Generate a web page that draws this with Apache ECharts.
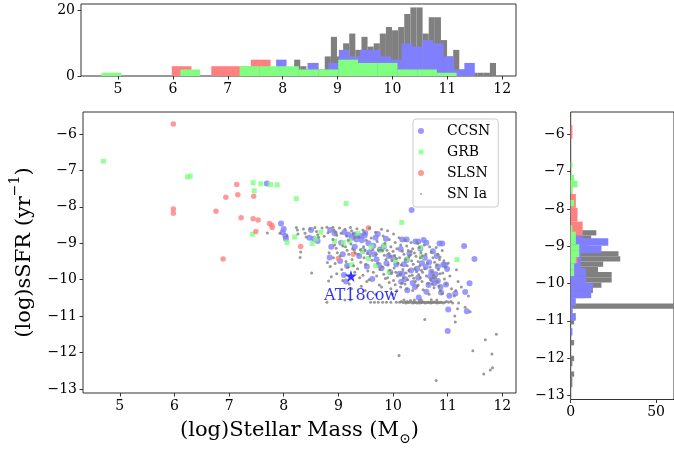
<!DOCTYPE html>
<html><head><meta charset="utf-8">
<script src="https://cdn.jsdelivr.net/npm/echarts@6/dist/echarts.min.js"></script>
<style>html,body{margin:0;padding:0;background:#fff}#c{width:674px;height:451px}</style>
</head><body><div id="c"></div>
<script>
const FONT = 'DejaVu Serif';
const massTicks = [5, 6, 7, 8, 9, 10, 11, 12];
const sfrTicks = [-6, -7, -8, -9, -10, -11, -12, -13];
const topCountTicks = [0, 20];
const sideCountTicks = [0, 50];
const seriesNames = ['CCSN', 'GRB', 'SLSN', 'SN Ia'];

// scatter data: [log stellar mass, log sSFR]
const ccsn = [
[7.69,-7.36],
[7.95,-8.46],[7.98,-8.70],[8.00,-8.61],[8.03,-8.80],[8.04,-8.88],
[8.47,-8.85],[8.50,-8.64],[8.55,-8.88],[8.62,-8.94],
[8.85,-8.64],[8.93,-8.73],[8.87,-9.10],[8.84,-9.39],
[9.03,-9.49],[9.10,-9.87],[9.14,-10.05],[9.11,-8.70],[9.05,-8.99],[9.18,-8.76],[9.08,-9.30],[9.16,-9.62],
[9.29,-8.76],[9.25,-8.85],[9.33,-8.90],[9.37,-8.80],[9.30,-9.10],[9.38,-9.35],
[9.41,-8.80],[9.48,-8.79],[9.49,-8.72],[9.52,-9.64],[9.55,-9.00],[9.45,-9.20],[9.57,-9.25],[9.43,-8.92],
[9.62,-9.98],[9.72,-8.75],[9.64,-9.07],[9.76,-9.17],[9.68,-8.85],[9.70,-9.45],[9.66,-9.30],[9.74,-9.60],
[9.79,-9.69],[9.87,-8.88],[9.83,-9.10],[9.92,-9.35],[9.88,-9.55],[9.95,-9.80],
[10.06,-9.58],[10.14,-9.16],[10.00,-9.40],[10.12,-9.84],[10.15,-10.06],
[10.17,-8.90],[10.25,-8.90],[10.20,-9.58],[10.25,-9.46],[10.33,-9.75],[10.17,-9.84],[10.26,-10.29],[10.30,-9.28],[10.22,-9.98],[10.34,-8.09],
[10.41,-8.95],[10.46,-8.95],[10.50,-9.15],[10.36,-10.09],[10.46,-9.95],[10.40,-10.20],[10.44,-9.70],[10.53,-9.55],[10.47,-10.49],
[10.56,-8.91],[10.61,-8.99],[10.61,-10.33],[10.68,-9.91],[10.73,-9.22],[10.70,-9.78],[10.58,-9.40],[10.65,-10.15],[10.72,-10.00],[10.60,-9.65],[10.66,-9.52],
[10.85,-9.01],[10.90,-9.01],[10.82,-9.64],[10.82,-10.04],[10.87,-10.20],[10.78,-9.85],[10.92,-9.59],[10.80,-9.35],[10.88,-10.35],[10.76,-10.10],
[10.95,-9.59],[10.99,-9.71],[10.97,-10.13],[11.01,-10.82],[11.00,-11.41],[11.03,-10.44],
[11.14,-10.38],[11.30,-9.08],
[11.32,-10.34],[11.35,-10.87],[11.49,-9.43],[11.40,-10.10]
];
const grb = [
[4.70,-6.75],[6.24,-7.18],[6.29,-7.16],[7.43,-8.75],[7.44,-7.34],[7.46,-7.56],[7.58,-7.37],[7.76,-7.39],
[7.88,-7.40],[8.06,-8.98],[8.20,-8.83],[8.23,-7.78],[8.52,-9.01],[8.59,-8.88],[8.68,-8.70],[8.93,-8.94],
[9.09,-8.98],[9.14,-7.91],[9.21,-8.94],[9.24,-9.59],[9.36,-8.73],[9.55,-9.42],[9.68,-9.62],[9.60,-9.10],
[9.84,-9.06],[9.93,-9.79],[9.78,-9.20],[10.05,-9.48],[10.16,-8.43],[10.26,-9.43],[10.50,-9.12],[10.52,-9.37],
[11.17,-9.45],[9.44,-9.22]
];
const slsn = [
[5.98,-5.73],[7.14,-7.39],[6.94,-7.74],[7.16,-7.67],[7.45,-7.71],[5.98,-8.06],[5.98,-8.18],[6.76,-8.12],
[7.22,-8.30],[7.44,-8.33],[7.53,-8.36],[7.74,-8.46],[7.78,-8.51],[7.79,-8.57],[7.49,-8.68],[8.31,-9.09],
[9.00,-9.42],[6.89,-9.43],[9.55,-8.58],[9.27,-9.30]
];
const snia = [
[7.70,-8.72],[7.93,-8.73],[8.06,-8.80],
[8.23,-8.57],[8.25,-8.64],[8.26,-8.75],[8.30,-9.39],[8.31,-9.24],
[8.36,-8.61],[8.39,-8.73],[8.41,-8.83],
[8.48,-8.60],[8.51,-9.82],
[8.57,-8.57],[8.60,-8.68],[8.62,-8.77],[8.64,-8.84],
[8.70,-8.58],[8.74,-8.81],
[8.79,-8.56],[8.81,-8.71],[8.83,-9.26],[8.80,-9.53],[8.85,-9.64],[8.79,-10.62],[8.82,-10.04],
[8.90,-8.56],[8.92,-8.64],[8.95,-8.70],[8.97,-8.78],[8.90,-8.90],[8.93,-9.05],[8.96,-9.14],[8.98,-9.26],[8.91,-9.40],[8.94,-9.56],[8.87,-9.92],[8.97,-9.84],
[9.02,-8.58],[9.05,-8.73],[9.08,-9.08],[9.03,-9.35],[9.06,-9.72],[9.08,-10.02],
[9.12,-8.62],[9.15,-8.80],[9.18,-8.92],[9.13,-9.10],[9.16,-9.19],[9.19,-9.30],[9.14,-9.50],[9.17,-9.66],[9.20,-10.12],[9.12,-10.56],
[9.22,-8.57],[9.24,-8.66],[9.27,-8.74],[9.30,-8.85],[9.23,-9.02],[9.26,-9.15],[9.29,-9.19],[9.31,-9.27],[9.25,-9.45],[9.28,-9.62],[9.30,-9.80],[9.24,-10.25],[9.22,-10.56],
[9.34,-8.60],[9.37,-8.82],[9.40,-9.18],[9.36,-9.30],[9.41,-9.52],[9.35,-9.70],[9.39,-9.95],[9.42,-10.18],
[9.45,-8.64],[9.48,-8.72],[9.51,-8.92],[9.46,-9.10],[9.49,-9.19],[9.53,-9.28],[9.47,-9.40],[9.50,-9.58],[9.54,-9.76],[9.45,-9.88],[9.52,-10.05],[9.49,-10.30],
[9.57,-8.58],[9.60,-8.86],[9.63,-9.18],[9.58,-9.35],[9.62,-9.47],[9.64,-9.80],[9.56,-10.00],[9.59,-10.62],[9.66,-10.62],
[9.68,-8.70],[9.71,-8.95],[9.74,-9.19],[9.69,-9.30],[9.72,-9.55],[9.76,-9.72],[9.70,-9.90],[9.75,-10.15],[9.73,-10.62],[9.68,-10.40],
[9.79,-8.62],[9.82,-8.80],[9.85,-9.00],[9.78,-9.18],[9.81,-9.20],[9.84,-9.33],[9.87,-9.45],[9.80,-9.65],[9.83,-9.85],[9.86,-9.97],[9.79,-10.20],[9.81,-10.62],[9.88,-10.62],
[9.90,-8.66],[9.93,-8.90],[9.96,-9.10],[9.89,-9.19],[9.92,-9.28],[9.95,-9.36],[9.98,-9.48],[9.91,-9.60],[9.94,-9.74],[9.97,-9.82],[9.90,-9.95],[9.93,-10.08],[9.96,-10.25],[9.99,-10.40],[9.96,-10.62],
[10.01,-8.75],[10.04,-8.98],[10.07,-9.15],[10.00,-9.22],[10.03,-9.34],[10.06,-9.42],[10.09,-9.55],[10.02,-9.68],[10.05,-9.80],[10.08,-9.90],[10.01,-10.02],[10.04,-10.14],[10.07,-10.30],[10.06,-10.62],
[10.11,-8.85],[10.14,-9.05],[10.17,-9.22],[10.20,-9.30],[10.12,-9.40],[10.15,-9.60],[10.18,-9.72],[10.13,-9.85],[10.19,-9.95],[10.16,-10.10],[10.12,-10.62],[10.15,-10.60],[10.18,-10.63],[10.20,-10.56],[10.14,-10.20],[10.11,-12.08],
[10.22,-8.92],[10.25,-9.08],[10.28,-9.20],[10.31,-9.33],[10.23,-9.45],[10.26,-9.62],[10.29,-9.75],[10.24,-9.82],[10.30,-9.90],[10.27,-10.00],[10.22,-10.12],[10.25,-10.25],[10.22,-10.62],[10.24,-10.64],[10.26,-10.60],[10.28,-10.63],[10.30,-10.62],[10.32,-10.57],[10.29,-9.38],
[10.33,-8.98],[10.36,-9.15],[10.39,-9.27],[10.42,-9.36],[10.34,-9.48],[10.37,-9.58],[10.40,-9.70],[10.43,-9.78],[10.35,-9.88],[10.38,-9.96],[10.41,-10.05],[10.44,-10.18],[10.36,-10.30],[10.34,-10.62],[10.36,-10.64],[10.38,-10.61],[10.40,-10.63],[10.42,-10.62],[10.44,-10.64],[10.39,-10.56],[10.33,-9.22],
[10.45,-9.00],[10.48,-9.12],[10.51,-9.26],[10.54,-9.35],[10.46,-9.50],[10.49,-9.62],[10.52,-9.74],[10.47,-9.86],[10.50,-9.95],[10.53,-10.05],[10.46,-10.15],[10.55,-10.28],[10.47,-10.62],[10.49,-10.64],[10.51,-10.62],[10.53,-10.63],[10.55,-10.61],[10.48,-10.58],[10.52,-10.56],[10.50,-9.40],[10.54,-9.80],
[10.57,-9.05],[10.60,-9.30],[10.63,-9.55],[10.58,-9.70],[10.61,-9.90],[10.64,-10.10],[10.58,-11.09],[10.57,-10.62],[10.59,-10.64],[10.61,-10.62],[10.63,-10.63],[10.65,-10.62],[10.66,-10.40],
[10.67,-9.10],[10.70,-9.25],[10.73,-9.40],[10.76,-9.52],[10.68,-9.65],[10.71,-9.78],[10.74,-9.88],[10.69,-10.00],[10.72,-10.12],[10.75,-10.22],[10.67,-10.62],[10.69,-10.64],[10.71,-10.62],[10.73,-10.63],[10.75,-10.61],[10.77,-10.62],[10.70,-10.55],[10.74,-9.95],
[10.79,-9.12],[10.82,-9.30],[10.85,-9.45],[10.80,-9.60],[10.83,-9.72],[10.86,-9.84],[10.78,-9.95],[10.81,-10.05],[10.84,-10.18],[10.87,-10.30],[10.79,-10.62],[10.81,-10.64],[10.83,-10.62],[10.85,-10.63],[10.87,-10.62],[10.80,-10.56],[10.79,-12.77],[10.86,-9.38],
[10.90,-9.20],[10.93,-9.48],[10.96,-9.66],[10.91,-9.82],[10.94,-9.98],[10.97,-10.12],[10.89,-10.62],[10.92,-10.64],[10.95,-10.62],[10.98,-10.60],[10.90,-10.38],
[11.01,-9.55],[11.04,-9.90],[11.07,-10.25],[11.02,-10.62],[11.06,-10.60],[11.09,-10.64],
[11.13,-11.00],[11.14,-11.16],[11.16,-9.73],[11.19,-10.05],[11.12,-10.45],[11.18,-10.80],[11.20,-10.64],[11.15,-10.30],
[11.25,-10.20],[11.32,-10.76],
[11.38,-10.45],[11.41,-10.88],[11.46,-11.95],
[11.66,-12.59],[11.69,-11.65],
[11.89,-11.50],[11.81,-12.04],[11.78,-12.48],[11.82,-12.42]
];
const at18cow = [[9.23, -9.90]];

// top histograms (stellar mass): first bin edge, bin width, counts
const massHistSNIa = {start: 7.764, width: 0.1114, counts: [1,0,1,1,5,3,2,4,2,6,12,6,10,13,8,12,9,10,13,15,14,15,19,21,21,13,18,18,11,6,8,2,2,1,1,1,4]};
const massHistCCSN = {start: 7.69, width: 0.1905, counts: [1,5,0,0,4,0,4,8,6,8,8,6,5,10,9,11,10,6,2,4]};
const massHistSLSN = {start: 5.98, width: 0.36, counts: [3,0,3,3,5,2,1,0,1,2]};
const massHistGRB = {start: 4.70, width: 0.3594, counts: [1,0,0,0,2,0,0,3,3,3,2,2,5,4,4,2,2,1]};
// side histograms (sSFR): upper bin edge, bin width, counts from top down
const sfrHistSNIa = {top: -8.57, width: 0.1403, counts: [15,12,10,10,28,29,19,16,24,24,18,13,8,2,68,1,2,2,0,0,0,2,0,0,2,1,0,2,1,1]};
const sfrHistCCSN = {top: -7.98, width: 0.201, counts: [1,0,0,7,22,18,6,6,9,9,13,12,3,1,3,0,1]};
const sfrHistSLSN = {top: -5.75, width: 0.37, counts: [1,0,0,0,1,3,4,7,1,4]};
const sfrHistGRB = {top: -6.74, width: 0.17, counts: [1,0,2,4,1,0,2,0,0,0,1,3,3,5,5,3,2,2]};

const COLORS = {CCSN: '#8080ff', GRB: '#80ff80', SLSN: '#ff8080', 'SN Ia': '#808080'};

function binsUp(h) {
  return h.counts.map((c, i) => [h.start + i * h.width, h.start + (i + 1) * h.width, c]).filter(d => d[2] > 0);
}
function binsDown(h) {
  return h.counts.map((c, i) => [h.top - (i + 1) * h.width, h.top - i * h.width, c]).filter(d => d[2] > 0);
}
function vBars(color) {
  return function (params, api) {
    const a = api.coord([api.value(0), api.value(2)]);
    const b = api.coord([api.value(1), 0]);
    return {type: 'rect', shape: {x: a[0], y: a[1], width: b[0] - a[0], height: b[1] - a[1]}, style: {fill: color}};
  };
}
function hBars(color) {
  return function (params, api) {
    const a = api.coord([0, api.value(1)]);
    const b = api.coord([api.value(2), api.value(0)]);
    return {type: 'rect', shape: {x: a[0], y: a[1], width: b[0] - a[0], height: b[1] - a[1]}, style: {fill: color}};
  };
}
const fmt = v => (v < 0 ? '\u2212' + Math.abs(v) : String(v));
const AX = '#333';
function axisBase(ticks, extra) {
  return Object.assign({
    type: 'value',
    axisLine: {show: false},
    splitLine: {show: false},
    axisTick: {show: true, length: 3.5, lineStyle: {color: AX}, customValues: ticks},
    axisLabel: {customValues: ticks, formatter: fmt, color: '#000', fontFamily: FONT, fontSize: 14, margin: 6}
  }, extra);
}

const XMIN = 4.327, XMAX = 12.25, YMIN = -13.11, YMAX = -5.40;

const chart = echarts.init(document.getElementById('c'), null, {renderer: 'canvas'});
chart.setOption({
  animation: false,
  backgroundColor: '#fff',
  grid: [
    {left: 81, top: 112, width: 435, height: 287.5, show: true, borderColor: AX, borderWidth: 1, backgroundColor: 'transparent'},
    {left: 81, top: 4, width: 435, height: 72, show: true, borderColor: AX, borderWidth: 1, backgroundColor: 'transparent'},
    {left: 570.7, top: 112, width: 104, height: 287.5, show: true, borderColor: AX, borderWidth: 1, backgroundColor: 'transparent'}
  ],
  xAxis: [
    axisBase(massTicks, {gridIndex: 0, min: XMIN, max: XMAX,
      name: '(log)Stellar Mass (M{s|\u2299})', nameLocation: 'middle', nameGap: 27,
      nameTextStyle: {fontFamily: FONT, fontSize: 21, color: '#000',
        rich: {s: {fontFamily: FONT, fontSize: 14, color: '#000', verticalAlign: 'bottom', padding: [0, 0, -5, 0]}}}}),
    axisBase(massTicks, {gridIndex: 1, min: XMIN, max: XMAX}),
    axisBase(sideCountTicks, {gridIndex: 2, min: 0, max: 60.47})
  ],
  yAxis: [
    axisBase(sfrTicks, {gridIndex: 0, min: YMIN, max: YMAX,
      name: '(log)sSFR (yr{p|\u22121})', nameLocation: 'middle', nameGap: 48,
      nameTextStyle: {fontFamily: FONT, fontSize: 21, color: '#000',
        rich: {p: {fontFamily: FONT, fontSize: 14, color: '#000', verticalAlign: 'top', padding: [-6, 0, 0, 0]}}}}),
    axisBase(topCountTicks, {gridIndex: 1, min: 0, max: 22.05}),
    axisBase(sfrTicks, {gridIndex: 2, min: YMIN, max: YMAX})
  ],
  legend: {
    show: true, selectedMode: false, orient: 'vertical', left: 413, top: 119,
    itemGap: 7, itemWidth: 30, itemHeight: 6, padding: [5, 8, 6, 5],
    backgroundColor: 'rgba(255,255,255,0.8)', borderColor: '#ccc', borderWidth: 1, borderRadius: 3,
    textStyle: {fontFamily: FONT, fontSize: 14, color: '#000', lineHeight: 14, padding: [0, 0, 0, 6]},
    data: [
      {name: 'CCSN', icon: 'circle'},
      {name: 'GRB', icon: 'path://M0,0M10,10M1,1h8v8h-8Z'},
      {name: 'SLSN', icon: 'circle'},
      {name: 'SN Ia', icon: 'path://M0,0M10,10M3.5,5a1.5,1.5 0 1,0 3,0a1.5,1.5 0 1,0 -3,0Z'}
    ]
  },
  series: [
    {name: 'CCSN', type: 'scatter', xAxisIndex: 0, yAxisIndex: 0, data: ccsn, symbol: 'circle', symbolSize: 6, itemStyle: {color: COLORS.CCSN}},
    {name: 'GRB', type: 'scatter', xAxisIndex: 0, yAxisIndex: 0, data: grb, symbol: 'rect', symbolSize: 5, itemStyle: {color: COLORS.GRB}},
    {name: 'SLSN', type: 'scatter', xAxisIndex: 0, yAxisIndex: 0, data: slsn, symbol: 'circle', symbolSize: 5.5, itemStyle: {color: COLORS.SLSN}},
    {name: 'SN Ia', type: 'scatter', xAxisIndex: 0, yAxisIndex: 0, data: snia, symbol: 'circle', symbolSize: 3, itemStyle: {color: COLORS['SN Ia']}},
    {name: 'AT18cow', type: 'scatter', xAxisIndex: 0, yAxisIndex: 0, data: at18cow,
      symbol: 'path://M50,0L61,35L98,35L68,57L79,91L50,70L21,91L32,57L2,35L39,35Z', symbolSize: 12,
      itemStyle: {color: '#0000ff'},
      label: {show: true, formatter: 'AT18cow', position: 'bottom', distance: 6, offset: [10, 0],
        color: '#0000ff', fontFamily: FONT, fontSize: 16}},
    {name: 'hm-snia', type: 'custom', xAxisIndex: 1, yAxisIndex: 1, data: binsUp(massHistSNIa), encode: {x: [0, 1], y: 2}, renderItem: vBars(COLORS['SN Ia'])},
    {name: 'hm-ccsn', type: 'custom', xAxisIndex: 1, yAxisIndex: 1, data: binsUp(massHistCCSN), encode: {x: [0, 1], y: 2}, renderItem: vBars(COLORS.CCSN)},
    {name: 'hm-slsn', type: 'custom', xAxisIndex: 1, yAxisIndex: 1, data: binsUp(massHistSLSN), encode: {x: [0, 1], y: 2}, renderItem: vBars(COLORS.SLSN)},
    {name: 'hm-grb', type: 'custom', xAxisIndex: 1, yAxisIndex: 1, data: binsUp(massHistGRB), encode: {x: [0, 1], y: 2}, renderItem: vBars(COLORS.GRB)},
    {name: 'hs-snia', type: 'custom', xAxisIndex: 2, yAxisIndex: 2, data: binsDown(sfrHistSNIa), encode: {x: 2, y: [0, 1]}, renderItem: hBars(COLORS['SN Ia'])},
    {name: 'hs-ccsn', type: 'custom', xAxisIndex: 2, yAxisIndex: 2, data: binsDown(sfrHistCCSN), encode: {x: 2, y: [0, 1]}, renderItem: hBars(COLORS.CCSN)},
    {name: 'hs-slsn', type: 'custom', xAxisIndex: 2, yAxisIndex: 2, data: binsDown(sfrHistSLSN), encode: {x: 2, y: [0, 1]}, renderItem: hBars(COLORS.SLSN)},
    {name: 'hs-grb', type: 'custom', xAxisIndex: 2, yAxisIndex: 2, data: binsDown(sfrHistGRB), encode: {x: 2, y: [0, 1]}, renderItem: hBars(COLORS.GRB)}
  ]
});
</script>
</body></html>
